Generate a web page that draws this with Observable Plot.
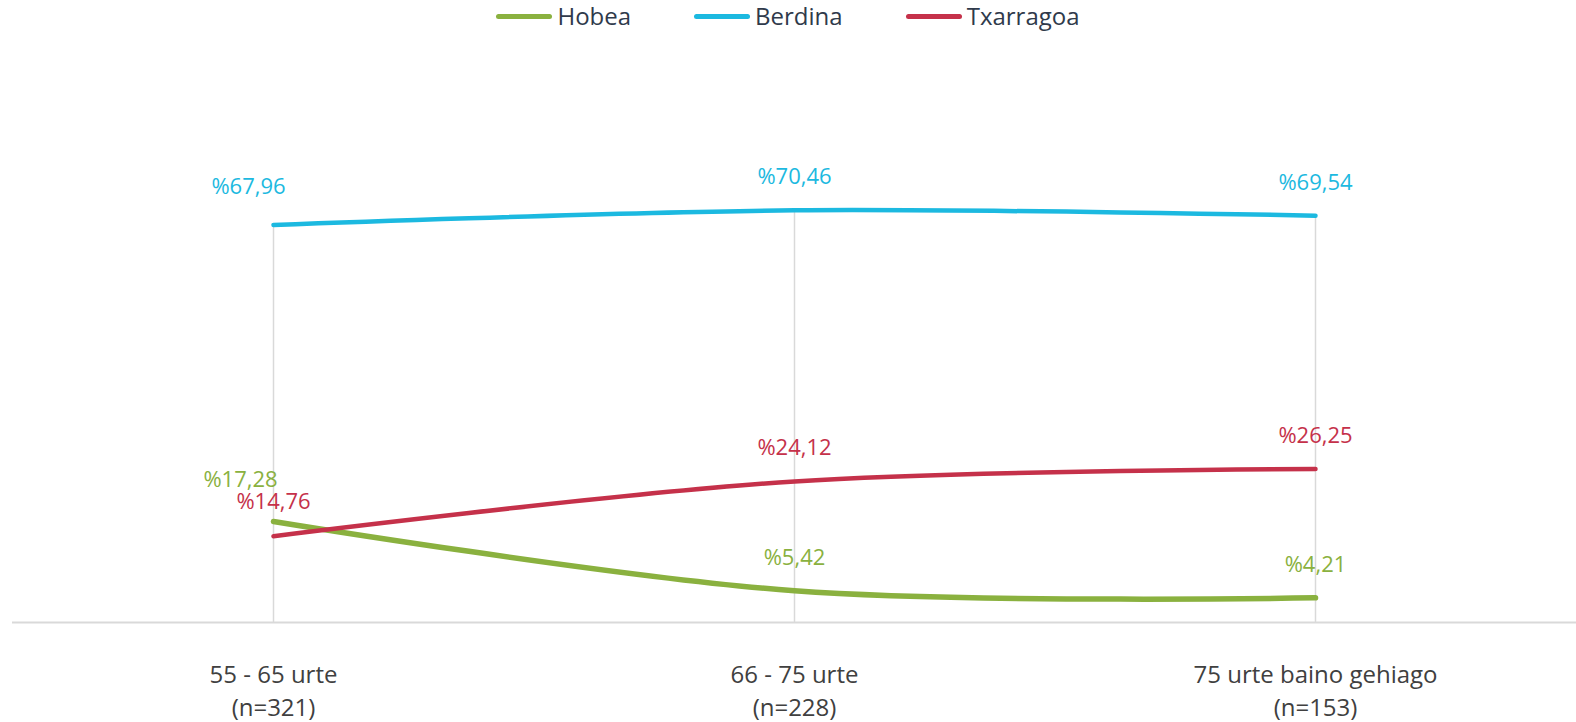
<!DOCTYPE html>
<html>
<head>
<meta charset="utf-8">
<script src="https://cdn.jsdelivr.net/npm/d3@7"></script>
<script src="https://cdn.jsdelivr.net/npm/@observablehq/plot@0.6"></script>
<style>
  html, body { margin: 0; padding: 0; background: #fff; }
  body { width: 1576px; height: 722px; overflow: hidden; font-family: "Open Sans", sans-serif; }
  #legend { height: 32px; display: flex; justify-content: center; align-items: center; gap: 63px; font-size: 24px; color: #2f3a4b; }
  .item { display: flex; align-items: center; gap: 5px; line-height: 1; }
  .sw { width: 56px; height: 5px; border-radius: 3px; }
  #chart svg { display: block; }
</style>
</head>
<body>
<div id="legend"></div>
<div id="chart"></div>
<script>
const ageGroups = ["55 - 65 urte", "66 - 75 urte", "75 urte baino gehiago"];
const sampleSizes = [321, 228, 153];
const seriesNames = ["Hobea", "Berdina", "Txarragoa"];
const hobea = [17.28, 5.42, 4.21];
const berdina = [67.96, 70.46, 69.54];
const txarragoa = [14.76, 24.12, 26.25];
const colors = ["#8ab13f", "#1cb9e0", "#c5314a"];

const tickLabels = ageGroups.map((g, i) => `${g}\n(n=${sampleSizes[i]})`);
const seriesValues = [hobea, berdina, txarragoa];
const rows = seriesNames.flatMap((s, si) =>
  seriesValues[si].map((v, i) => ({series: s, cat: tickLabels[i], value: v, i}))
);
const fmt = v => "%" + v.toFixed(2).replace(".", ",");
const colorOf = Object.fromEntries(seriesNames.map((s, i) => [s, colors[i]]));

// legend
const legend = document.getElementById("legend");
seriesNames.forEach((s, i) => {
  const it = document.createElement("div");
  it.className = "item";
  it.innerHTML = `<span class="sw" style="background:${colors[i]}"></span><span>${s}</span>`;
  legend.appendChild(it);
});

const widths = {Hobea: 5.5, Berdina: 4.5, Txarragoa: 4.5};
const lineMarks = seriesNames.map(s =>
  Plot.line(rows.filter(d => d.series === s), {
    x: "cat", y: "value", stroke: colorOf[s], strokeWidth: widths[s],
    curve: "cardinal", strokeLinecap: "round"
  })
);

const labelBase = {x: "cat", y: "value", text: d => fmt(d.value), fill: d => colorOf[d.series], fontSize: 22};
const isShiftedFirst = d => d.i === 0 && (d.series === "Hobea" || d.series === "Berdina");

const chart = Plot.plot({
  width: 1576,
  height: 690,
  marginLeft: 12,
  marginRight: 0,
  marginTop: 122,
  marginBottom: 100,
  style: {fontFamily: "Open Sans, sans-serif", background: "#fff"},
  x: {type: "point", domain: tickLabels, padding: 0.5, label: null},
  y: {domain: [0, 80], axis: null},
  color: {type: "identity"},
  marks: [
    Plot.ruleX(rows.filter(d => d.series === "Berdina"), {x: "cat", y1: 0, y2: "value", stroke: "#d9d9d9", strokeWidth: 1.5}),
    Plot.ruleY([0], {stroke: "#d9d9d9", strokeWidth: 2}),
    Plot.axisX({tickSize: 0, tickPadding: 37, fontSize: 24, lineHeight: 1.38, color: "#404040", label: null}),
    ...lineMarks,
    Plot.text(rows.filter(d => !isShiftedFirst(d) && !(d.i === 0 && d.series === "Txarragoa")), {...labelBase, dy: -33}),
    Plot.text(rows.filter(d => d.i === 0 && d.series === "Txarragoa"), {...labelBase, dy: -34}),
    Plot.text(rows.filter(d => d.i === 0 && d.series === "Hobea"), {...labelBase, dx: -33, dy: -41}),
    Plot.text(rows.filter(d => d.i === 0 && d.series === "Berdina"), {...labelBase, dx: -25, dy: -38})
  ]
});
document.getElementById("chart").appendChild(chart);
</script>
</body>
</html>
